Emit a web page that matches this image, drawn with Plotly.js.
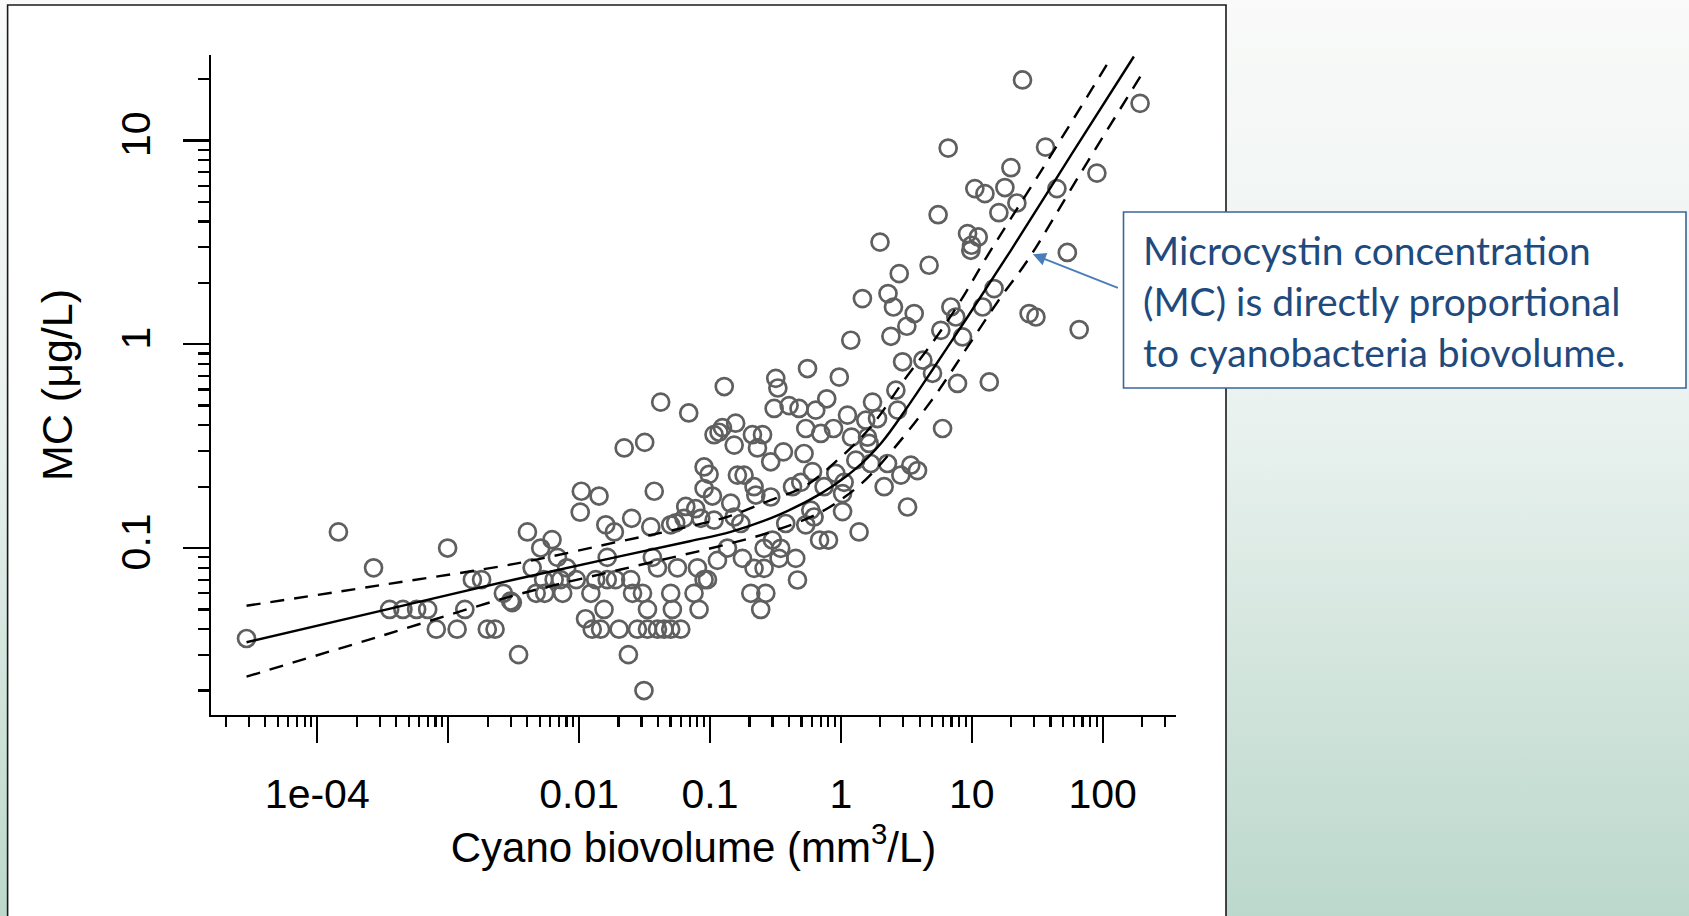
<!DOCTYPE html>
<html><head><meta charset="utf-8">
<script src="https://cdn.plot.ly/plotly-3.0.1.min.js"></script>
<style>
html,body{margin:0;padding:0;width:1689px;height:916px;overflow:hidden;
background:linear-gradient(to bottom,#f9faf9 0%,#eaf2ef 45%,#bcd8cc 100%);}
#chart{width:1689px;height:916px;}
</style></head><body><div id="chart"></div>
<script>
// Scatter data: cyanobacteria biovolume (mm3/L) and microcystin (ug/L)
const cyanoBiovolume = [
2.88e-5,1.45e-4,2.69e-4,9.9e-4,3.57e-4,4.51e-4,5.74e-4,6.97e-4,1.34e-3,8.11e-4,1.17e-3,1.99e-3,2.28e-3,1.53e-3,1.80e-3,2.64e-3,3.00e-3,3.45e-3,
4.03e-3,6.21e-3,5.09e-3,6.83e-3,8.04e-3,4.38e-3,5.36e-3,6.45e-3,7.23e-3,9.51e-3,4.70e-3,5.46e-3,7.49e-3,3.09e-3,
0.0104,0.0142,0.0102,0.0112,0.0126,0.0146,0.0202,0.0155,0.0123,0.0134,0.0164,0.0190,0.0248,0.0164,0.0256,0.0305,0.0333,0.0279,0.0333,0.0397,0.0446,0.0501,0.0598,0.0238,0.0313,0.0397,0.0564,0.0802,0.0501,0.0755,0.0516,0.0825,0.0901,0.0956,0.114,0.136,0.0363,
0.042,0.0688,0.1285,0.0221,0.0317,0.1074,0.1172,0.1245,0.0901,0.0984,0.0375,0.0160,0.0252,0.0901,0.1044,0.0653,0.0778,0.085,0.1074,0.0353,0.0501,0.0547,0.0633,0.0186,
0.556,0.972,0.318,0.330,2.96,4.23,5.01,2.63,0.309,0.402,0.479,0.643,0.780,1.123,1.744,1.55,1.905,2.71,0.157,0.539,0.702,0.878,1.205,1.597,1.643,0.211,0.252,0.153,0.2305,0.364,0.523,0.291,1.30,1.692,2.27,3.42,3.85,5.98,0.607,0.914,0.162,0.182,0.217,0.427,0.494,0.744,1.058,2.87,2.14,0.291,0.224,0.144,1.03,1.03,3.23,0.589,0.624,0.379,0.539,0.153,0.172,
9.83,2.79,4.72,1.46,2.29,2.52,3.63,1.19,2.41,3.19,6.92,7.55,5.80,8.50,12.1,14.8,7.78,13.6,27.4,30.9,66.1,53.7,
24.4,193,6.60,36.6,19.9,90.3,10.55,12.6,17.9,22.1,44.7,16.1,5.53,9.28,11.2,9.95,1.99,
0.687,0.804,1.377,0.177,0.259,0.300,0.347,0.337,0.452,0.217,0.259,0.466,0.205,0.267,0.244
];
const microcystin = [
0.036,0.12,0.08,0.10,0.05,0.05,0.05,0.05,0.05,0.04,0.04,0.04,0.04,0.07,0.07,0.06,0.055,0.03,
0.12,0.11,0.10,0.09,0.08,0.08,0.07,0.07,0.07,0.07,0.06,0.06,0.06,0.054,
0.19,0.18,0.15,0.045,0.04,0.04,0.04,0.05,0.06,0.07,0.07,0.07,0.07,0.09,0.06,0.06,0.05,0.04,0.04,0.04,0.04,0.04,0.04,0.03,0.02,0.08,0.08,0.08,0.06,0.06,0.05,0.05,0.07,0.07,0.087,0.10,0.09,
0.52,0.46,0.62,0.31,0.33,0.36,0.37,0.39,0.25,0.23,0.19,0.13,0.14,0.196,0.18,0.16,0.156,0.14,0.137,0.127,0.13,0.133,0.14,0.12,
0.76,0.69,0.68,0.61,0.82,0.835,0.72,0.595,0.484,0.50,0.484,0.475,0.54,0.449,0.52,0.424,0.432,0.475,0.41,0.386,0.365,0.386,0.35,0.35,0.326,0.36,0.36,0.32,0.31,0.2965,0.291,0.265,0.27,0.26,0.26,0.255,0.24,0.386,0.237,0.2325,0.228,0.228,0.20,0.20,0.21,0.20,0.21,0.228,0.20,0.178,0.182,0.166,0.185,0.151,0.159,0.1535,0.142,0.132,0.13,0.142,0.132,
2.89,2.22,2.44,1.675,1.772,1.523,1.414,1.046,1.094,1.225,1.523,1.36,1.17,1.086,1.523,1.875,0.642,0.653,1.414,1.36,1.18,2.82,
19.8,15.2,9.17,9.27,7.35,6.91,5.80,5.48,5.87,4.93,5.80,4.42,4.32,3.49,3.36,3.06,3.17,
0.1095,0.1095,0.12,0.089,0.0997,0.1095,0.0997,0.089,0.089,0.0795,0.0795,0.0697,0.06,0.06,0.05
];
// Fitted curve and confidence band
const fitX = [2.88e-5,3.05e-4,3.28e-3,0.0208,0.07,0.144,0.339,0.702,1.26,2.02,3.23,5.47,9.28,19.9,57.1,173];
const fitY = [0.0345,0.0492,0.0703,0.0913,0.108,0.120,0.146,0.185,0.241,0.326,0.493,0.816,1.36,2.89,8.44,25.8];
const upperX = [2.88e-5,3.05e-4,3.28e-3,0.0208,0.0528,0.136,0.291,0.523,0.942,1.69,3.04,5.16,8.25,12.8,36.8,109.6];
const upperY = [0.0521,0.0658,0.0839,0.108,0.1226,0.1424,0.172,0.200,0.270,0.393,0.666,1.046,1.64,2.64,7.71,24.0];
const lowerX = [2.88e-5,3.05e-4,3.28e-3,0.0208,0.144,0.291,0.702,1.42,2.55,5.16,9.28,16.7,26.7,68.1,195];
const lowerY = [0.0234,0.0370,0.0588,0.0785,0.1055,0.120,0.150,0.206,0.309,0.552,0.970,1.705,2.58,6.94,20.7];

const xTickVals = [1e-4,1e-3,0.01,0.1,1,10,100];
const xTickText = ['1e-04','','0.01','0.1','1','10','100'];
const yTickVals = [0.1,1,10];
const yTickText = ['0.1','1','10'];
const xTitle = 'Cyano biovolume (mm<sup>3</sup>/L)';
const yTitle = 'MC (μg/L)';
const calloutLines = ['Microcystin concentration','(MC) is directly proportional','to cyanobacteria biovolume.'];

function minorTicks(lo, hi){const v=[];for(let d=lo;d<=hi;d++){for(let k=2;k<=9;k++){v.push(+(k*Math.pow(10,d)).toPrecision(3));}}return v;}

const M = {l:211, r:513, t:55, b:201};
const W = 1689, H = 916;
const pw = W - M.l - M.r, ph = H - M.t - M.b;
const px = v => (v - M.l)/pw;
const py = v => (H - M.b - v)/ph;

const font = 'Liberation Sans, Arial, sans-serif';
const lineStyle = {color:'black', width:2.4};

const traces = [
 {x:cyanoBiovolume, y:microcystin, type:'scatter', mode:'markers',
  marker:{symbol:'circle-open', size:17, color:'#5f5f5f', line:{width:2.7, color:'#5f5f5f'}}, hoverinfo:'x+y'},
 {x:fitX, y:fitY, type:'scatter', mode:'lines', line:Object.assign({shape:'spline', smoothing:1}, lineStyle)},
 {x:upperX, y:upperY, type:'scatter', mode:'lines', line:Object.assign({shape:'spline', smoothing:1, dash:'14px,10px'}, lineStyle)},
 {x:lowerX, y:lowerY, type:'scatter', mode:'lines', line:Object.assign({shape:'spline', smoothing:1, dash:'14px,10px'}, lineStyle)}
];

const axisCommon = {showline:true, linecolor:'black', linewidth:2.2, ticks:'outside', ticklen:26, tickwidth:2.2, tickcolor:'black',
  showgrid:false, zeroline:false, tickmode:'array', ticklabelstandoff:16, tickfont:{family:font, size:41, color:'black'}};

const layout = {
 width:W, height:H, margin:M, showlegend:false,
 paper_bgcolor:'rgba(0,0,0,0)', plot_bgcolor:'rgba(0,0,0,0)',
 xaxis: Object.assign({}, axisCommon, {type:'log', range:[-4.812, 2.56], tickvals:xTickVals, ticktext:xTickText, automargin:false,
   minor:{ticks:'outside', ticklen:10, tickwidth:2.2, tickcolor:'black', tickmode:'array', tickvals:minorTicks(-5,2), showgrid:false},
   title:{text:xTitle, font:{family:font, size:42, color:'black'}, standoff:13}}),
 yaxis: Object.assign({}, axisCommon, {type:'log', range:[-1.819, 1.419], tickvals:yTickVals, ticktext:yTickText, tickangle:-90, automargin:false,
   minor:{ticks:'outside', ticklen:11, tickwidth:2.2, tickcolor:'black', tickmode:'array', tickvals:minorTicks(-2,1), showgrid:false},
   title:{text:yTitle, font:{family:font, size:43, color:'black'}, standoff:27}}),
 shapes:[
  {type:'rect', xref:'paper', yref:'paper', x0:px(7.6), x1:px(1226), y0:py(H+5), y1:py(5), layer:'below',
   fillcolor:'white', line:{color:'#1a1a1a', width:1.6}},
  {type:'rect', xref:'paper', yref:'paper', x0:px(1123.5), x1:px(1686), y0:py(388), y1:py(212), layer:'above',
   fillcolor:'white', line:{color:'#3a659a', width:1.6}}
 ],
 annotations: calloutLines.map((t,i)=>({xref:'paper', yref:'paper', x:px(1141), y:py(250 + i*51), xanchor:'left', yanchor:'middle',
   text:t, showarrow:false, font:{family:'Lato, Open Sans, sans-serif', size:39, color:'#1f4a7e'}})).concat([
   {x:1.4666, y:0.441, xref:'x', yref:'y', text:' ', showarrow:true, ax:88, ay:34.7, axref:'pixel', ayref:'pixel',
    arrowhead:2, arrowsize:1.3, arrowwidth:2, arrowcolor:'#4a7ebb', standoff:0, startstandoff:0}
 ])
};

Plotly.newPlot('chart', traces, layout, {displayModeBar:false, staticPlot:true});
</script></body></html>
